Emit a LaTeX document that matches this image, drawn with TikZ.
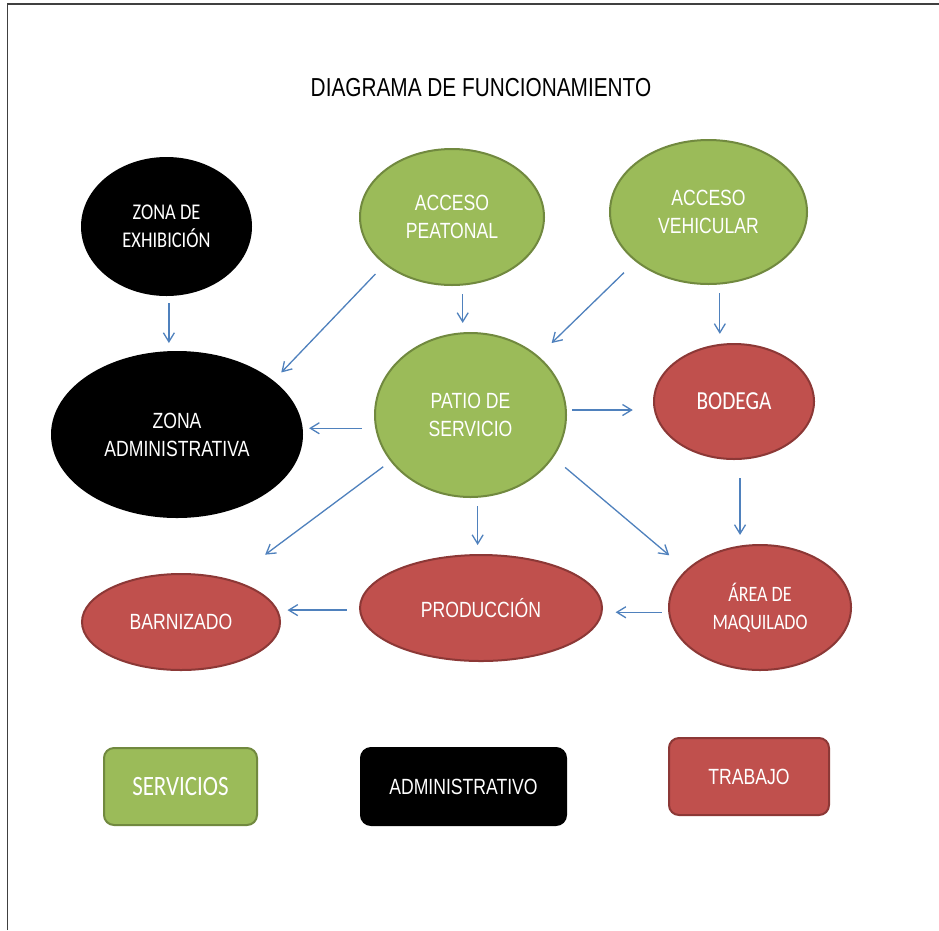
\documentclass[tikz,border=0pt]{standalone}
\usepackage{fontspec}
\setmainfont{Liberation Sans}
\newfontfamily\narrowfont{Liberation Sans}[FakeStretch=0.8]
\newfontfamily\calfont{Carlito}[FakeStretch=0.82]
\usetikzlibrary{shapes.geometric,arrows.meta}
\definecolor{gfill}{HTML}{9BBB59}
\definecolor{gline}{HTML}{71893F}
\definecolor{rfill}{HTML}{C0504D}
\definecolor{rline}{HTML}{8C3836}
\definecolor{arrowblue}{HTML}{4F81BD}
\definecolor{framegray}{HTML}{404040}
\begin{document}
\begin{tikzpicture}[x=1pt,y=-1pt,
  zone/.style={ellipse, inner sep=0pt, outer sep=0pt, text=white, align=center, line width=2pt},
  grnzone/.style={zone, fill=gfill, draw=gline},
  redzone/.style={zone, fill=rfill, draw=rline},
  blkzone/.style={zone, fill=black, draw=black},
  nar/.style={font=\narrowfont\fontsize{22}{28}\selectfont},
  cal/.style={font=\calfont\fontsize{#1}{28}\selectfont},
  legendbox/.style={rectangle, rounded corners=10pt, inner sep=0pt, outer sep=0pt, text=white, line width=2pt, minimum height=77pt},
  flow/.style={draw=arrowblue, line width=1.3pt, -{Straight Barb[length=9pt,width=11pt]}},
]
\fill[white] (0,0) rectangle (939,930);
\useasboundingbox (0,0) rectangle (939,930);
\draw[framegray, line width=1.5pt] (7.5,930) -- (7.5,4) -- (939,4);

\node[font=\narrowfont\fontsize{26}{30}\selectfont, anchor=base] (title) at (481,96.7) {DIAGRAMA DE FUNCIONAMIENTO};

\node[blkzone, minimum width=169pt, minimum height=137pt, cal=22.5] (ex) at (166.5,226.5) {ZONA DE\\EXHIBICIÓN};
\node[grnzone, minimum width=184pt, minimum height=136pt, nar] (pe) at (452,217) {ACCESO\\PEATONAL};
\node[grnzone, minimum width=197pt, minimum height=144pt, nar] (ve) at (708.5,212) {ACCESO\\VEHICULAR};
\node[blkzone, minimum width=250pt, minimum height=165pt, nar] (ad) at (177,434.5) {ZONA\\ADMINISTRATIVA};
\node[grnzone, minimum width=191pt, minimum height=164pt, nar] (pa) at (470.5,415) {PATIO DE\\SERVICIO};
\node[redzone, minimum width=160pt, minimum height=115pt, cal=26] (bo) at (734,401.5) {BODEGA};
\node[redzone, minimum width=198pt, minimum height=96pt, nar] (ba) at (181,622) {BARNIZADO};
\node[redzone, minimum width=242pt, minimum height=106pt, nar] (pr) at (481,608) {PRODUCCIÓN};
\node[redzone, minimum width=182pt, minimum height=125pt, cal=22] (ar) at (760,607.5) {ÁREA DE\\MAQUILADO};

\draw[flow, shorten <=8.1pt, shorten >=9.1pt] (ex.272.9) -- (ad.94.8 -| ex.272.9);
\draw[flow, shorten <=14.2pt, shorten >=12.4pt] (pe.215.5) -- (ad.29.8);
\draw[flow, shorten <=9.5pt, shorten >=10.3pt] (pe.279.1) -- (pa.95.2 -| pe.279.1);
\draw[flow, shorten <=17pt, shorten >=19.6pt] (ve.214.9) -- (pa.41.5);
\draw[flow, shorten <=9.5pt, shorten >=10.9pt] (ve.279) -- (bo.103.7 -| ve.279);
\draw[flow, shorten <=14.4pt, shorten >=7.3pt] (pa.188.4) -- (ad.2.5 |- pa.188.4);
\draw[flow, shorten <=6.2pt, shorten >=22.1pt] (pa.3) -- (bo.186.8 |- pa.3);
\draw[flow, shorten <=10pt, shorten >=43.2pt] (pa.210.6) -- (ba.40.2);
\draw[flow, shorten <=9.3pt, shorten >=10pt] (pa.275.2) -- (pr.93.2 -| pa.275.2);
\draw[flow, shorten <=16.4pt, shorten >=23.2pt] (pa.333) -- (ar.153.3);
\draw[flow, shorten <=19.2pt, shorten >=11.4pt] (bo.276.8) -- (ar.107 -| bo.276.8);
\draw[flow, shorten <=7.4pt, shorten >=14.5pt] (ar.183.4) -- (pr.357.6 |- ar.183.4);
\draw[flow, shorten <=13.3pt, shorten >=9.1pt] (pr.181.9) -- (ba.5.8 |- pr.181.9);

\node[legendbox, fill=gfill, draw=gline, minimum width=153pt, font=\calfont\fontsize{28}{30}\selectfont] (lserv) at (180.5,786.5) {SERVICIOS};
\node[legendbox, fill=black, draw=black, minimum width=205pt, nar] (ladm) at (463.5,786.5) {ADMINISTRATIVO};
\node[legendbox, fill=rfill, draw=rline, minimum width=160pt, nar] (ltra) at (749,776.5) {TRABAJO};
\end{tikzpicture}
\end{document}
